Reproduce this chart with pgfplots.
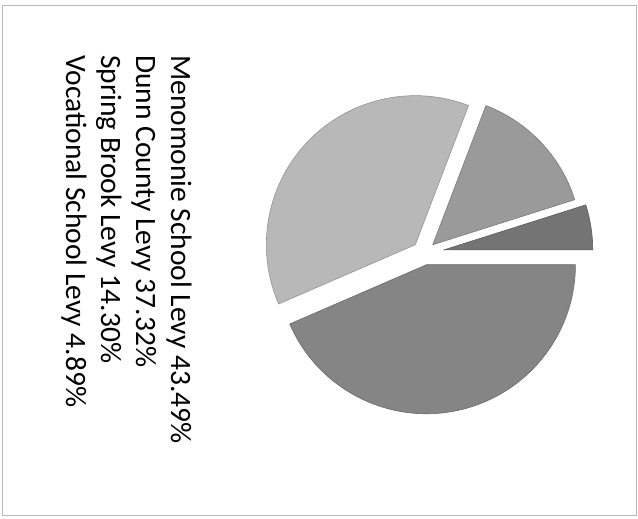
\documentclass[border=0pt]{standalone}
\usepackage{pgfplots}
\usepackage{pgfplotstable}
\pgfplotsset{compat=1.18}
\usepackage{fontspec}
\setmainfont{Carlito}

\definecolor{menocol}{HTML}{858585}
\definecolor{dunncol}{HTML}{B8B8B8}
\definecolor{springcol}{HTML}{9A9A9A}
\definecolor{voccol}{HTML}{747474}

% shares in percent, explode distance, fill colour
\pgfplotstableread{
share explode colour
43.49 12 menocol
37.32 12 dunncol
14.30 12 springcol
4.89 20 voccol
}\levies

\begin{document}
\begin{tikzpicture}
\begin{axis}[
    x=1pt, y=1pt,
    xmin=0, xmax=638, ymin=0, ymax=519,
    hide axis, clip=false,
  ]
  \path (axis cs:0,0) rectangle (axis cs:638,519);
  \draw[gray!55, line width=1pt] (axis cs:2,3) rectangle (axis cs:636,513);

  % slices go clockwise from 0 degrees
  \def\cum{0}
  \pgfplotsforeachungrouped \i in {0,...,3}{%
    \pgfplotstablegetelem{\i}{share}\of\levies \let\share\pgfplotsretval
    \pgfplotstablegetelem{\i}{explode}\of\levies \let\expl\pgfplotsretval
    \pgfplotstablegetelem{\i}{colour}\of\levies \let\col\pgfplotsretval
    \pgfmathsetmacro\sa{-3.6*\cum}%
    \pgfmathsetmacro\sb{-3.6*(\cum+\share)}%
    \pgfmathsetmacro\sm{(\sa+\sb)/2}%
    \edef\tmp{\noexpand\fill[fill=\col, draw=\col!80!black, line width=0.6pt]
      (axis cs:424,266) ++(\sm:\expl pt) -- ++(\sb:149pt)
      arc[start angle=\sb, end angle=\sa, radius=149pt] -- cycle;}%
    \tmp
    \pgfmathsetmacro\cum{\cum+\share}%
  }

  \begin{scope}[every node/.style={rotate=-90, anchor=base west, inner sep=0pt,
      font=\fontsize{29.5}{35}\selectfont, text=black}]
    \node at (axis cs:171,464) {Menomonie School Levy 43.49\%};
    \node at (axis cs:136,464) {Dunn County Levy 37.32\%};
    \node at (axis cs:101,464) {Spring Brook Levy 14.30\%};
    \node at (axis cs:66,464) {Vocational School Levy 4.89\%};
  \end{scope}
\end{axis}
\end{tikzpicture}
\end{document}
